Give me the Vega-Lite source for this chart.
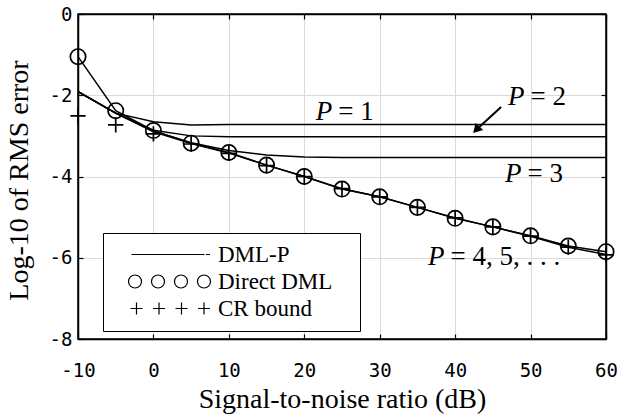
{
  "$schema": "https://vega.github.io/schema/vega-lite/v6.json",
  "width": 528,
  "height": 325,
  "autosize": {"type": "none"},
  "padding": {"left": 78, "top": 14, "right": 15, "bottom": 76},
  "background": "white",
  "config": {
    "view": {"stroke": "black", "strokeWidth": 1.5},
    "font": "Liberation Serif",
    "axis": {
      "domainColor": "black",
      "domainWidth": 1.5,
      "tickColor": "black",
      "tickWidth": 1.2,
      "tickSize": -5,
      "gridColor": "#dadada",
      "gridWidth": 1,
      "labelFont": "DejaVu Sans Mono",
      "labelFontSize": 19,
      "labelColor": "black",
      "labelFlush": false,
      "labelOverlap": false,
      "titleFont": "Liberation Serif",
      "titleFontSize": 28,
      "titleFontWeight": "normal",
      "titleColor": "black"
    }
  },
  "datasets": {
    "curves": [
      {"snr": -10, "val": -1.91, "series": "P1"}, {"snr": -5, "val": -2.44, "series": "P1"}, {"snr": 0, "val": -2.65, "series": "P1"}, {"snr": 5, "val": -2.73, "series": "P1"}, {"snr": 10, "val": -2.72, "series": "P1"}, {"snr": 15, "val": -2.72, "series": "P1"}, {"snr": 20, "val": -2.72, "series": "P1"}, {"snr": 25, "val": -2.72, "series": "P1"}, {"snr": 30, "val": -2.72, "series": "P1"}, {"snr": 35, "val": -2.72, "series": "P1"}, {"snr": 40, "val": -2.72, "series": "P1"}, {"snr": 45, "val": -2.72, "series": "P1"}, {"snr": 50, "val": -2.72, "series": "P1"}, {"snr": 55, "val": -2.72, "series": "P1"}, {"snr": 60, "val": -2.72, "series": "P1"},
      {"snr": -10, "val": -1.91, "series": "P2"}, {"snr": -5, "val": -2.44, "series": "P2"}, {"snr": 0, "val": -2.86, "series": "P2"}, {"snr": 5, "val": -3.0, "series": "P2"}, {"snr": 10, "val": -3.02, "series": "P2"}, {"snr": 15, "val": -3.02, "series": "P2"}, {"snr": 20, "val": -3.02, "series": "P2"}, {"snr": 25, "val": -3.02, "series": "P2"}, {"snr": 30, "val": -3.02, "series": "P2"}, {"snr": 35, "val": -3.02, "series": "P2"}, {"snr": 40, "val": -3.02, "series": "P2"}, {"snr": 45, "val": -3.02, "series": "P2"}, {"snr": 50, "val": -3.02, "series": "P2"}, {"snr": 55, "val": -3.02, "series": "P2"}, {"snr": 60, "val": -3.02, "series": "P2"},
      {"snr": -10, "val": -1.91, "series": "P3"}, {"snr": -5, "val": -2.44, "series": "P3"}, {"snr": 0, "val": -2.88, "series": "P3"}, {"snr": 5, "val": -3.17, "series": "P3"}, {"snr": 10, "val": -3.36, "series": "P3"}, {"snr": 15, "val": -3.47, "series": "P3"}, {"snr": 20, "val": -3.52, "series": "P3"}, {"snr": 25, "val": -3.53, "series": "P3"}, {"snr": 30, "val": -3.53, "series": "P3"}, {"snr": 35, "val": -3.53, "series": "P3"}, {"snr": 40, "val": -3.53, "series": "P3"}, {"snr": 45, "val": -3.53, "series": "P3"}, {"snr": 50, "val": -3.53, "series": "P3"}, {"snr": 55, "val": -3.53, "series": "P3"}, {"snr": 60, "val": -3.53, "series": "P3"},
      {"snr": -10, "val": -1.91, "series": "P4"}, {"snr": -5, "val": -2.44, "series": "P4"}, {"snr": 0, "val": -2.9, "series": "P4"}, {"snr": 5, "val": -3.19, "series": "P4"}, {"snr": 10, "val": -3.42, "series": "P4"}, {"snr": 15, "val": -3.72, "series": "P4"}, {"snr": 20, "val": -4.0, "series": "P4"}, {"snr": 25, "val": -4.3, "series": "P4"}, {"snr": 30, "val": -4.5, "series": "P4"}, {"snr": 35, "val": -4.76, "series": "P4"}, {"snr": 40, "val": -5.02, "series": "P4"}, {"snr": 45, "val": -5.24, "series": "P4"}, {"snr": 50, "val": -5.47, "series": "P4"}, {"snr": 55, "val": -5.74, "series": "P4"}, {"snr": 60, "val": -5.92, "series": "P4"},
      {"snr": -10, "val": -1.05, "series": "Direct DML"}, {"snr": -5, "val": -2.38, "series": "Direct DML"}, {"snr": 0, "val": -2.87, "series": "Direct DML"}, {"snr": 5, "val": -3.18, "series": "Direct DML"}, {"snr": 10, "val": -3.41, "series": "Direct DML"}, {"snr": 15, "val": -3.72, "series": "Direct DML"}, {"snr": 20, "val": -4.0, "series": "Direct DML"}, {"snr": 25, "val": -4.31, "series": "Direct DML"}, {"snr": 30, "val": -4.5, "series": "Direct DML"}, {"snr": 35, "val": -4.76, "series": "Direct DML"}, {"snr": 40, "val": -5.03, "series": "Direct DML"}, {"snr": 45, "val": -5.24, "series": "Direct DML"}, {"snr": 50, "val": -5.46, "series": "Direct DML"}, {"snr": 55, "val": -5.71, "series": "Direct DML"}, {"snr": 60, "val": -5.85, "series": "Direct DML"},
      {"snr": -10, "val": -2.51, "series": "CR bound"}, {"snr": -5, "val": -2.73, "series": "CR bound"}, {"snr": 0, "val": -2.95, "series": "CR bound"}, {"snr": 5, "val": -3.2, "series": "CR bound"}, {"snr": 10, "val": -3.43, "series": "CR bound"}, {"snr": 15, "val": -3.73, "series": "CR bound"}, {"snr": 20, "val": -4.0, "series": "CR bound"}, {"snr": 25, "val": -4.3, "series": "CR bound"}, {"snr": 30, "val": -4.5, "series": "CR bound"}, {"snr": 35, "val": -4.76, "series": "CR bound"}, {"snr": 40, "val": -5.02, "series": "CR bound"}, {"snr": 45, "val": -5.24, "series": "CR bound"}, {"snr": 50, "val": -5.47, "series": "CR bound"}, {"snr": 55, "val": -5.74, "series": "CR bound"}, {"snr": 60, "val": -5.93, "series": "CR bound"}
    ],
    "notes": [
      {"x": 23.7, "y": -2.61, "rest": "= 1"},
      {"x": 49.2, "y": -2.24, "rest": "= 2"},
      {"x": 48.8, "y": -4.13, "rest": "= 3"},
      {"x": 38.6, "y": -6.18, "rest": "= 4, 5, . . ."}
    ],
    "arrow": [
      {"x": 46.1, "y": -2.29, "x2": 42.8, "y2": -2.85}
    ]
  },
  "layer": [
    {
      "data": {"name": "curves"},
      "transform": [{"filter": "datum.series != 'CR bound'"}],
      "mark": {"type": "line", "color": "black", "strokeWidth": 1.5},
      "encoding": {
        "x": {
          "field": "snr", "type": "quantitative",
          "scale": {"domain": [-10, 60], "nice": false, "zero": false},
          "axis": {
            "orient": "bottom", "values": [-10, 0, 10, 20, 30, 40, 50, 60],
            "grid": true, "labelExpr": "toString(datum.value)",
            "labelPadding": 36, "labelBaseline": "middle",
            "title": "Signal-to-noise ratio (dB)",
            "titleBaseline": "alphabetic", "titleY": 68
          }
        },
        "y": {
          "field": "val", "type": "quantitative",
          "scale": {"domain": [-8, 0], "nice": false, "zero": false},
          "axis": {
            "orient": "left", "values": [-8, -6, -4, -2, 0],
            "grid": true, "labelExpr": "toString(datum.value)",
            "labelAlign": "right", "labelBaseline": "middle", "labelPadding": 11,
            "title": "Log-10 of RMS error",
            "titleBaseline": "alphabetic", "titleAngle": 270, "titleAlign": "center",
            "titleX": -51, "titleY": 166
          }
        },
        "detail": {"field": "series"}
      }
    },
    {
      "data": {"name": "curves"},
      "transform": [{"filter": "datum.series == 'CR bound' || datum.series == 'Direct DML'"}],
      "mark": {"type": "point", "filled": false, "color": "black", "strokeWidth": 1.7, "opacity": 1, "size": 235},
      "encoding": {
        "x": {"field": "snr", "type": "quantitative", "axis": null},
        "y": {"field": "val", "type": "quantitative", "axis": null},
        "shape": {
          "field": "series", "type": "nominal",
          "scale": {"domain": ["Direct DML", "CR bound"], "range": ["circle", "M-1,0H1M0,-1V1"]},
          "legend": null
        }
      }
    },
    {
      "data": {"name": "curves"},
      "transform": [{"filter": "false"}],
      "mark": {"type": "point", "filled": false, "color": "black", "strokeWidth": 1.2, "opacity": 1, "size": 400},
      "encoding": {
        "shape": {
          "field": "series", "type": "nominal",
          "scale": {
            "domain": ["DML-P", "Direct DML", "CR bound"],
            "range": [
              "M-3.8,0H3.5M3.65,0H4.05",
              "M-2.8,0A0.65 0.65 0 1 1 -4.1,0A0.65 0.65 0 1 1 -2.8,0M-0.5,0A0.65 0.65 0 1 1 -1.8,0A0.65 0.65 0 1 1 -0.5,0M1.8,0A0.65 0.65 0 1 1 0.5,0A0.65 0.65 0 1 1 1.8,0M4.1,0A0.65 0.65 0 1 1 2.8,0A0.65 0.65 0 1 1 4.1,0",
              "M-3.9,0H-2.7M-3.3,-0.6V0.6M-1.65,0H-0.45M-1.05,-0.6V0.6M0.6,0H1.8M1.2,-0.6V0.6M2.85,0H4.05M3.45,-0.6V0.6"
            ]
          },
          "legend": {
            "title": null,
            "orient": "none",
            "legendX": 25,
            "legendY": 219,
            "padding": 10,
            "strokeColor": "black",
            "fillColor": "white",
            "cornerRadius": 0,
            "symbolSize": 400,
            "symbolStrokeColor": "black",
            "symbolStrokeWidth": 1.2,
            "symbolFillColor": "transparent",
            "symbolOpacity": 1,
            "symbolOffset": 45,
            "labelOffset": 37,
            "labelFont": "Liberation Serif",
            "labelFontSize": 23,
            "labelColor": "black",
            "labelLimit": 400,
            "rowPadding": 3,
            "labelExpr": "datum.label == 'Direct DML' ? 'Direct DML\u2800' : datum.label"
          }
        }
      }
    },
    {
      "data": {"name": "notes"},
      "mark": {"type": "text", "text": "P", "align": "right", "baseline": "alphabetic", "font": "Liberation Serif", "fontStyle": "italic", "fontSize": 27, "color": "black"},
      "encoding": {
        "x": {"field": "x", "type": "quantitative", "axis": {"orient": "top", "values": [-10, 0, 10, 20, 30, 40, 50, 60], "labels": false, "grid": false, "title": null}},
        "y": {"field": "y", "type": "quantitative", "axis": {"orient": "right", "values": [-8, -6, -4, -2, 0], "labels": false, "grid": false, "title": null}}
      }
    },
    {
      "data": {"name": "notes"},
      "mark": {"type": "text", "align": "left", "baseline": "alphabetic", "dx": 6, "font": "Liberation Serif", "fontSize": 27, "color": "black"},
      "encoding": {
        "x": {"field": "x", "type": "quantitative", "axis": null},
        "y": {"field": "y", "type": "quantitative", "axis": null},
        "text": {"field": "rest"}
      }
    },
    {
      "data": {"name": "arrow"},
      "mark": {"type": "rule", "color": "black", "strokeWidth": 2},
      "encoding": {
        "x": {"field": "x", "type": "quantitative", "axis": null},
        "y": {"field": "y", "type": "quantitative", "axis": null},
        "x2": {"field": "x2"},
        "y2": {"field": "y2"}
      }
    },
    {
      "data": {"name": "arrow"},
      "mark": {"type": "point", "shape": "triangle-up", "filled": true, "color": "black", "opacity": 1, "size": 110, "angle": 223},
      "encoding": {
        "x": {"field": "x2", "type": "quantitative", "axis": null},
        "y": {"field": "y2", "type": "quantitative", "axis": null}
      }
    }
  ],
  "resolve": {"axis": {"x": "independent", "y": "independent"}, "scale": {"shape": "independent"}}
}
